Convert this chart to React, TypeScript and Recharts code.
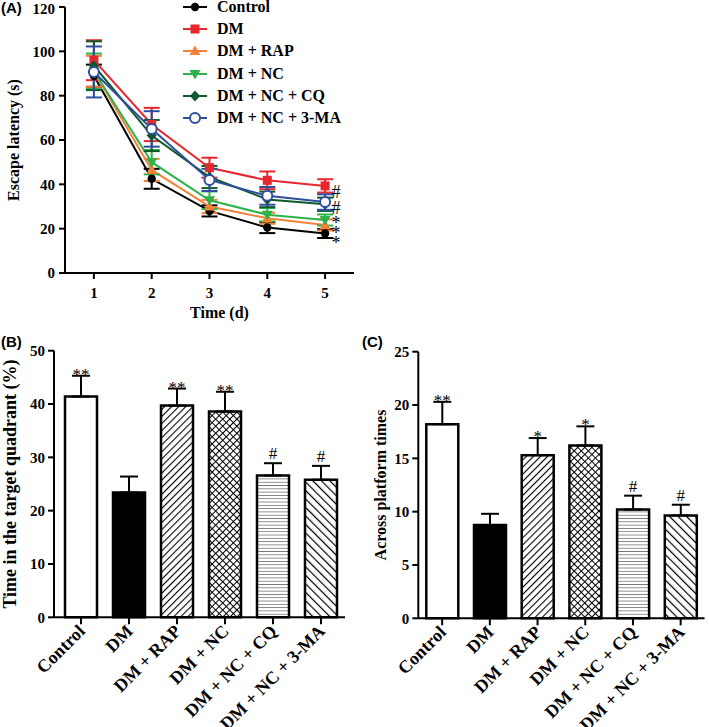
import React from 'react'
import {
  LineChart,
  Line,
  BarChart,
  Bar,
  Cell,
  XAxis,
  YAxis,
  ErrorBar,
  Legend,
  LabelList,
  ReferenceDot,
  Label,
} from 'recharts'

const SERIF = "'Liberation Serif', 'Times New Roman', serif"
const SANS = "'Liberation Sans', Arial, sans-serif"

// (A) escape latency over the training days
const days = [1, 2, 3, 4, 5]
const controlLatency = [89, 42.5, 28, 20.5, 17.8]
const controlLatencyErr = [5, 4.5, 2.5, 2.5, 2]
const dmLatency = [96, 67, 47.5, 41.8, 39.3]
const dmLatencyErr = [9, 7.5, 4.5, 4, 3]
const rapLatency = [91, 46.5, 30, 24.7, 21.7]
const rapLatencyErr = [7, 5, 3, 2.5, 2.5]
const ncLatency = [91, 50, 32.8, 26.3, 23.9]
const ncLatencyErr = [8, 5.5, 4, 3, 2.5]
const cqLatency = [93.5, 62, 43.3, 33.2, 31]
const cqLatencyErr = [11, 7, 5, 3.5, 3]
const maLatency = [90.7, 65, 42, 34.8, 32]
const maLatencyErr = [11.5, 8, 5, 4, 3.5]

// significance marks at the end of day 5
const endMarks = [
  { sign: '#', value: 36.5 },
  { sign: '#', value: 29.5 },
  { sign: '*', value: 23.9 },
  { sign: '*', value: 19.4 },
  { sign: '*', value: 14.9 },
]

// (B) and (C) probe trial
const groups = ['Control', 'DM', 'DM + RAP', 'DM + NC', 'DM + NC + CQ', 'DM + NC + 3-MA']
const quadrantTime = [41.4, 23.4, 39.7, 38.6, 26.6, 25.8]
const quadrantTimeErr = [3.9, 3.0, 3.2, 3.7, 2.3, 2.6]
const quadrantSig = ['**', '', '**', '**', '#', '#']
const crossings = [18.2, 8.75, 15.3, 16.2, 10.2, 9.65]
const crossingsErr = [2.1, 1.05, 1.6, 1.8, 1.3, 1.0]
const crossingSig = ['**', '', '*', '*', '#', '#']

const latencySeries = [
  { key: 'control', name: groups[0], mean: controlLatency, err: controlLatencyErr, color: '#000000', shape: 'circle' },
  { key: 'dm', name: groups[1], mean: dmLatency, err: dmLatencyErr, color: '#e8262d', shape: 'square' },
  { key: 'rap', name: groups[2], mean: rapLatency, err: rapLatencyErr, color: '#f4823a', shape: 'up' },
  { key: 'nc', name: groups[3], mean: ncLatency, err: ncLatencyErr, color: '#2db34a', shape: 'down' },
  { key: 'cq', name: groups[4], mean: cqLatency, err: cqLatencyErr, color: '#0e5a2c', shape: 'diamond' },
  { key: 'ma', name: groups[5], mean: maLatency, err: maLatencyErr, color: '#2f4e9f', shape: 'open' },
]

const latencyRows = days.map((day, i) => {
  const row: any = { day }
  latencySeries.forEach((s) => {
    row[s.key] = s.mean[i]
    row[s.key + 'Err'] = s.err[i]
  })
  return row
})

const quadrantRows = groups.map((name, i) => ({ name, value: quadrantTime[i], err: [0, quadrantTimeErr[i]] }))
const crossingRows = groups.map((name, i) => ({ name, value: crossings[i], err: [0, crossingsErr[i]] }))

const barFills = ['#ffffff', '#000000', 'url(#hatchR)', 'url(#cross)', 'url(#horiz)', 'url(#hatchL)']

const tickStyle = { fontFamily: SERIF, fontWeight: 700, fontSize: 15, fill: '#000' }
const axisLine = { stroke: '#000', strokeWidth: 2 }
const PLOT_H = 266.6

function Marker({ shape, cx, cy, color }: any) {
  if (cx == null || cy == null) return null
  switch (shape) {
    case 'square':
      return <rect x={cx - 4.5} y={cy - 4.5} width={9} height={9} fill={color} />
    case 'up':
      return <polygon points={`${cx},${cy - 5.5} ${cx + 5.5},${cy + 4} ${cx - 5.5},${cy + 4}`} fill={color} />
    case 'down':
      return <polygon points={`${cx},${cy + 5.5} ${cx + 5.5},${cy - 4} ${cx - 5.5},${cy - 4}`} fill={color} />
    case 'diamond':
      return <polygon points={`${cx},${cy - 5.5} ${cx + 5},${cy} ${cx},${cy + 5.5} ${cx - 5},${cy}`} fill={color} />
    case 'open':
      return <circle cx={cx} cy={cy} r={5} fill="#fff" stroke={color} strokeWidth={2} />
    default:
      return <circle cx={cx} cy={cy} r={4.2} fill={color} />
  }
}

const LatencyLegend = () => (
  <div style={{ fontFamily: SERIF, fontWeight: 700, fontSize: 16, color: '#000' }}>
    {latencySeries.map((s) => (
      <div key={s.key} style={{ display: 'flex', alignItems: 'center', height: 22.2, whiteSpace: 'nowrap' }}>
        <svg width={34} height={14} style={{ flex: 'none' }}>
          <line x1={0} x2={24} y1={7} y2={7} stroke={s.color} strokeWidth={2} />
          <Marker shape={s.shape} cx={12} cy={7} color={s.color} />
        </svg>
        <span>{s.name}</span>
      </div>
    ))}
  </div>
)

const CategoryTick = ({ x, y, payload }: any) => {
  const ax = x + 5
  const ay = y + 6
  return (
    <text
      x={ax}
      y={ay}
      transform={`rotate(-45, ${ax}, ${ay})`}
      textAnchor="end"
      fontFamily={SERIF}
      fontWeight={700}
      fontSize={18}
      fill="#000"
    >
      {payload.value}
    </text>
  )
}

const sigLabel = (sig: string[], err: number[]) => (props: any) => {
  const vb = props.viewBox || props
  const { x, y, width, height } = vb
  const index = props.index
  const text = sig[index]
  if (!text) return null
  const value = props.value
  const top = y - (err[index] * height) / value
  const star = text.includes('*')
  return (
    <text
      key={`sig-${index}`}
      x={x + width / 2}
      y={star ? top + 4 : top - 4}
      textAnchor="middle"
      fontFamily={SERIF}
      fontSize={17}
      fill="#000"
    >
      {text}
    </text>
  )
}

const Patterns = () => (
  <defs>
    <pattern id="hatchR" patternUnits="userSpaceOnUse" width={5} height={5} patternTransform="rotate(45)">
      <rect width={5} height={5} fill="#fff" />
      <line x1={0} y1={0} x2={0} y2={5} stroke="#000" strokeWidth={2.2} />
    </pattern>
    <pattern id="hatchL" patternUnits="userSpaceOnUse" width={6} height={6} patternTransform="rotate(-45)">
      <rect width={6} height={6} fill="#fff" />
      <line x1={0} y1={0} x2={0} y2={6} stroke="#000" strokeWidth={2.4} />
    </pattern>
    <pattern id="cross" patternUnits="userSpaceOnUse" width={5} height={5} patternTransform="rotate(45)">
      <rect width={5} height={5} fill="#fff" />
      <line x1={0} y1={0} x2={0} y2={5} stroke="#000" strokeWidth={2} />
      <line x1={0} y1={0} x2={5} y2={0} stroke="#000" strokeWidth={2} />
    </pattern>
    <pattern id="horiz" patternUnits="userSpaceOnUse" width={6} height={3.3}>
      <rect width={6} height={3.3} fill="#fff" />
      <line x1={0} y1={0} x2={6} y2={0} stroke="#333" strokeWidth={1.1} />
    </pattern>
  </defs>
)

function ProbeChart({ rows, sig, err, domain, ticks, label, labelSize, width, yWidth, top, right, padLeft, labelOffset }: any) {
  return (
    <BarChart width={width} height={397} data={rows} margin={{ top, right, left: 0, bottom: 0 }}>
      <Patterns />
      <XAxis
        dataKey="name"
        height={397 - top - PLOT_H}
        axisLine={axisLine}
        tickLine={axisLine}
        tickSize={7}
        tick={<CategoryTick />}
        interval={0}
        padding={{ left: padLeft, right: 0 }}
      />
      <YAxis
        domain={domain}
        ticks={ticks}
        width={yWidth}
        axisLine={axisLine}
        tickLine={axisLine}
        tickSize={6}
        tickMargin={3}
        tick={tickStyle}
      >
        <Label
          value={label}
          angle={-90}
          position="insideLeft"
          offset={labelOffset}
          style={{ textAnchor: 'middle', fontFamily: SERIF, fontWeight: 700, fontSize: labelSize, fill: '#000' }}
        />
      </YAxis>
      <Bar dataKey="value" barSize={32} stroke="#000" strokeWidth={2.5} isAnimationActive={false}>
        {rows.map((r: any, i: number) => (
          <Cell key={`cell-${i}`} fill={barFills[i]} />
        ))}
        <ErrorBar dataKey="err" width={9} stroke="#000" strokeWidth={2} direction="y" />
        <LabelList dataKey="value" content={sigLabel(sig, err)} />
      </Bar>
    </BarChart>
  )
}

export default function App() {
  return (
    <div style={{ position: 'absolute', left: 0, top: 0, width: 709, height: 727, background: '#fff', overflow: 'hidden' }}>
      <style>{'body{margin:0}'}</style>

      <div style={{ position: 'absolute', left: 0, top: 0 }}>
        <LineChart width={360} height={330} data={latencyRows} margin={{ top: 7, right: 6, left: 0, bottom: 0 }}>
          <XAxis
            dataKey="day"
            type="number"
            domain={[0.5, 5.5]}
            ticks={days}
            height={57}
            axisLine={axisLine}
            tickLine={axisLine}
            tickSize={6}
            tickMargin={8}
            tick={tickStyle}
          >
            <Label
              value="Time (d)"
              position="insideBottom"
              offset={12}
              dx={10}
              style={{ fontFamily: SERIF, fontWeight: 700, fontSize: 16, fill: '#000' }}
            />
          </XAxis>
          <YAxis
            domain={[0, 120]}
            ticks={[0, 20, 40, 60, 80, 100, 120]}
            width={65}
            axisLine={axisLine}
            tickLine={axisLine}
            tickSize={6}
            tickMargin={4}
            tick={tickStyle}
          >
            <Label
              value="Escape latency (s)"
              angle={-90}
              position="insideLeft"
              offset={13}
              style={{ textAnchor: 'middle', fontFamily: SERIF, fontWeight: 700, fontSize: 16, fill: '#000' }}
            />
          </YAxis>
          <Legend
            layout="vertical"
            align="center"
            verticalAlign="middle"
            content={<LatencyLegend />}
            wrapperStyle={{ left: 183, top: -4, width: 180 }}
          />
          {latencySeries.map((s) => (
            <Line
              key={s.key}
              dataKey={s.key}
              stroke={s.color}
              strokeWidth={2}
              isAnimationActive={false}
              dot={(p: any) => <Marker key={`${s.key}-${p.index}`} shape={s.shape} cx={p.cx} cy={p.cy} color={s.color} />}
              activeDot={false}
            >
              <ErrorBar dataKey={s.key + 'Err'} width={8} stroke={s.color} strokeWidth={2} direction="y" />
            </Line>
          ))}
          {endMarks.map((m, i) => (
            <ReferenceDot
              key={`mark-${i}`}
              x={5.19}
              y={m.value}
              r={0}
              fill="#000"
              stroke="none"
              ifOverflow="visible"
              shape={(p: any) => (
                <text
                  x={p.cx}
                  y={p.cy + (m.sign === '*' ? 9 : 6)}
                  textAnchor="middle"
                  fontFamily={SERIF}
                  fontSize={18}
                  fill="#000"
                  stroke="none"
                >
                  {m.sign}
                </text>
              )}
            />
          ))}
        </LineChart>
      </div>

      <div style={{ position: 'absolute', left: 0, top: 330 }}>
        <ProbeChart
          rows={quadrantRows}
          sig={quadrantSig}
          err={quadrantTimeErr}
          domain={[0, 50]}
          ticks={[0, 10, 20, 30, 40, 50]}
          label="Time in the target quadrant (%)"
          labelSize={18}
          width={355}
          yWidth={54}
          top={20.7}
          right={10}
          padLeft={3}
          labelOffset={10}
        />
      </div>

      <div style={{ position: 'absolute', left: 355, top: 330 }}>
        <ProbeChart
          rows={crossingRows}
          sig={crossingSig}
          err={crossingsErr}
          domain={[0, 25]}
          ticks={[0, 5, 10, 15, 20, 25]}
          label="Across platform times"
          labelSize={16}
          width={354}
          yWidth={63.3}
          top={21.7}
          right={4.5}
          padLeft={0}
          labelOffset={25}
        />
      </div>

      <div style={{ position: 'absolute', left: 1, top: -1, fontFamily: SANS, fontWeight: 700, fontSize: 15 }}>(A)</div>
      <div style={{ position: 'absolute', left: 1, top: 333, fontFamily: SANS, fontWeight: 700, fontSize: 15 }}>(B)</div>
      <div style={{ position: 'absolute', left: 362, top: 333, fontFamily: SANS, fontWeight: 700, fontSize: 15 }}>(C)</div>
    </div>
  )
}
